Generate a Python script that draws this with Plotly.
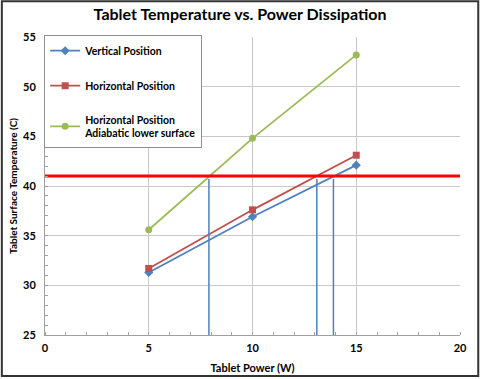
import plotly.graph_objects as go

power = [5, 10, 15]
vertical = [31.3, 36.9, 42.1]
horizontal = [31.7, 37.6, 43.1]
adiabatic = [35.6, 44.8, 53.2]
threshold = 41
threshold_x = [0, 20]
cross_x = [7.9, 13.1, 13.9]
cross_top = [40.7, 40.7, 40.7]
y_floor = 25

FONT = "Lato"
fig = go.Figure()

fig.add_trace(go.Scatter(x=power, y=vertical, mode="lines+markers",
                         name="Vertical Position", legendgroup="a",
                         line=dict(color="#4F81BD", width=1.8),
                         marker=dict(symbol="diamond", size=7, color="#4F81BD")))
fig.add_trace(go.Scatter(x=power, y=horizontal, mode="lines+markers",
                         name="Horizontal Position", legendgroup="b",
                         line=dict(color="#C0504D", width=1.8),
                         marker=dict(symbol="square", size=7, color="#C0504D")))
fig.add_trace(go.Scatter(x=power, y=adiabatic, mode="lines+markers",
                         name="Horizontal Position<br>Adiabatic lower surface", legendgroup="c",
                         line=dict(color="#9BBB59", width=1.8),
                         marker=dict(symbol="circle", size=7, color="#9BBB59")))

fig.add_trace(go.Scatter(x=threshold_x, y=[threshold, threshold], mode="lines",
                         showlegend=False, line=dict(color="#FF0000", width=3)))
for cx, ct in zip(cross_x, cross_top):
    fig.add_trace(go.Scatter(x=[cx, cx], y=[y_floor, ct], mode="lines",
                             showlegend=False, line=dict(color="#4F81BD", width=1.5)))

fig.update_layout(
    width=480, height=379,
    margin=dict(l=45, r=20, t=37, b=44, autoexpand=False),
    paper_bgcolor="white", plot_bgcolor="white",
    font=dict(family=FONT, color="black", size=11),
    title=dict(text="<b>Tablet Temperature vs. Power Dissipation</b>",
               x=0.5, xanchor="center", y=0.962, yanchor="middle",
               font=dict(size=16, family=FONT, color="black")),
    legend=dict(x=-0.002, y=1.006, xanchor="left", yanchor="top",
                bgcolor="white", bordercolor="#909090", borderwidth=1,
                font=dict(size=10.5, family=FONT, color="black", weight="bold"),
                tracegroupgap=16, itemwidth=30),
    shapes=[dict(type="rect", xref="paper", yref="paper",
                 x0=-0.104, x1=1.044, y0=-0.138, y1=1.12,
                 line=dict(color="#333333", width=2), layer="above")],
)
fig.update_xaxes(range=[0, 20], tickvals=[0, 5, 10, 15, 20],
                 showgrid=True, gridcolor="#C8C8C8", gridwidth=1,
                 showline=True, linecolor="#A0A0A0", zeroline=False,
                 ticks="", ticklabelstandoff=3,
                 tickfont=dict(size=11, family=FONT, weight="bold"),
                 minor=dict(dtick=1, ticks="inside", ticklen=3, tickcolor="#A0A0A0", showgrid=False),
                 title=dict(text="<b>Tablet Power (W)</b>", font=dict(size=11, family=FONT), standoff=11))
fig.update_yaxes(range=[25, 55], tickvals=[25, 30, 35, 40, 45, 50, 55],
                 showgrid=True, gridcolor="#C8C8C8", gridwidth=1,
                 showline=True, linecolor="#A0A0A0", zeroline=False,
                 ticks="", ticklabelstandoff=6,
                 tickfont=dict(size=11, family=FONT, weight="bold"),
                 minor=dict(dtick=1, ticks="inside", ticklen=3, tickcolor="#A0A0A0", showgrid=False),
                 title=dict(text="<b>Tablet Surface Temperature (C)</b>", font=dict(size=10, family=FONT), standoff=3))

fig.write_html("out.html", config={"displayModeBar": False},
               post_script="document.body.style.margin='0';document.body.style.overflow='hidden';")
